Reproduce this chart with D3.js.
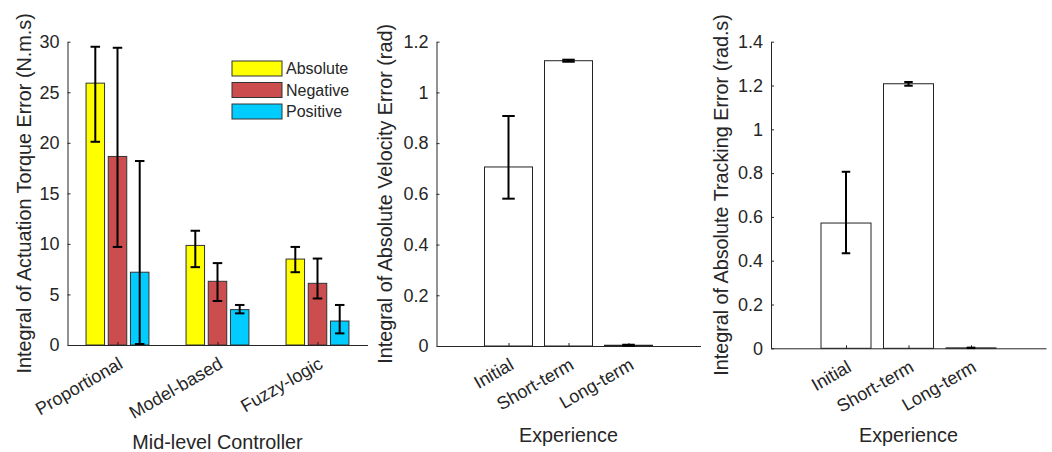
<!DOCTYPE html>
<html>
<head>
<meta charset="utf-8">
<script src="https://cdn.jsdelivr.net/npm/d3@7"></script>
<style>
  body { margin: 0; background: #fff; }
  text { font-family: "Liberation Sans", Arial, Helvetica, sans-serif; fill: #262626; }
</style>
</head>
<body>
<div class="chart"></div>
<script>
// panel 1 data: mid-level controller comparison
var controllers = ["Proportional", "Model-based", "Fuzzy-logic"];
var seriesNames = ["Absolute", "Negative", "Positive"];
var absolute = [25.9, 9.85, 8.5];
var absoluteLow = [20.1, 7.7, 7.2];
var absoluteHigh = [29.5, 11.3, 9.7];
var negative = [18.65, 6.3, 6.1];
var negativeLow = [9.7, 4.35, 4.6];
var negativeHigh = [29.4, 8.1, 8.55];
var positive = [7.2, 3.5, 2.37];
var positiveLow = [0.1, 3.13, 1.15];
var positiveHigh = [18.2, 3.96, 3.96];
var torqueTicks = [0, 5, 10, 15, 20, 25, 30];

// panels 2 and 3: experience
var experience = ["Initial", "Short-term", "Long-term"];
var velocity = [0.706, 1.125, 0.003];
var velocityLow = [0.581, 1.121, 0.001];
var velocityHigh = [0.907, 1.129, 0.005];
var velocityTicks = [0, 0.2, 0.4, 0.6, 0.8, 1, 1.2];
var tracking = [0.572, 1.208, 0.002];
var trackingLow = [0.434, 1.199, 0.001];
var trackingHigh = [0.806, 1.216, 0.003];
var trackingTicks = [0, 0.2, 0.4, 0.6, 0.8, 1, 1.2, 1.4];

var colors = ["#ffff00", "#cc4d4d", "#00ccff"];
var axisColor = "#262626";
var fmt = d3.format("~g");

var svg = d3.select(".chart").append("svg")
    .attr("width", 1052)
    .attr("height", 452);

// draws the axes + labels for one panel
function drawAxes(x, y, ticks, cats, ylabel, xlabel, labelX, xlabelY) {
    var x0 = x.range()[0], x1 = x.range()[1];
    var y0 = y.range()[0], y1 = y.range()[1];

    var ya = svg.append("g")
        .attr("transform", "translate(" + x0 + ",0)")
        .call(d3.axisLeft(y).tickValues(ticks).tickFormat(fmt)
            .tickSizeInner(-3).tickSizeOuter(0).tickPadding(8));
    ya.select(".domain").attr("stroke", axisColor);
    ya.selectAll(".tick line").attr("stroke", axisColor);
    ya.selectAll(".tick text").attr("font-size", 18).attr("fill", axisColor)
        .attr("font-family", "Liberation Sans, Arial, sans-serif");

    var xa = svg.append("g")
        .attr("transform", "translate(0," + y0 + ")")
        .call(d3.axisBottom(x).tickValues([1, 2, 3]).tickFormat("")
            .tickSizeInner(-3).tickSizeOuter(0));
    xa.select(".domain").attr("stroke", axisColor);
    xa.selectAll(".tick line").attr("stroke", axisColor);

    // rotated category labels
    svg.append("g").selectAll("text")
        .data(cats)
        .enter().append("text")
        .attr("transform", function (d, i) {
            return "translate(" + x(i + 1) + "," + (y0 + 11) + ") rotate(-30)";
        })
        .attr("text-anchor", "end")
        .attr("dy", "0.72em")
        .attr("font-size", 18)
        .text(function (d) { return d; });

    svg.append("text")
        .attr("transform", "translate(" + labelX + "," + ((y0 + y1) / 2) + ") rotate(-90)")
        .attr("text-anchor", "middle")
        .attr("font-size", 19.8)
        .text(ylabel);

    svg.append("text")
        .attr("x", (x0 + x1) / 2)
        .attr("y", xlabelY)
        .attr("text-anchor", "middle")
        .attr("font-size", 19.8)
        .text(xlabel);
}

function drawErrors(x, y, pos, low, high, cap) {
    var g = svg.append("g").attr("stroke", "#000").attr("stroke-width", 2);
    pos.forEach(function (p, i) {
        g.append("line").attr("x1", x(p)).attr("x2", x(p))
            .attr("y1", y(low[i])).attr("y2", y(high[i]));
        g.append("line").attr("x1", x(p) - cap / 2).attr("x2", x(p) + cap / 2)
            .attr("y1", y(low[i])).attr("y2", y(low[i]));
        g.append("line").attr("x1", x(p) - cap / 2).attr("x2", x(p) + cap / 2)
            .attr("y1", y(high[i])).attr("y2", y(high[i]));
    });
}

// ---- panel 1 ----
var x1 = d3.scaleLinear().domain([0.5, 3.5]).range([67.5, 367.5]);
var y1 = d3.scaleLinear().domain([0, 30]).range([345, 41.7]);

var groups = [
    { vals: absolute, low: absoluteLow, high: absoluteHigh },
    { vals: negative, low: negativeLow, high: negativeHigh },
    { vals: positive, low: positiveLow, high: positiveHigh }
];
var barW = 0.185, step = 0.222;

groups.forEach(function (s, j) {
    svg.append("g").selectAll("rect")
        .data(s.vals)
        .enter().append("rect")
        .attr("x", function (d, i) { return x1(i + 1 + (j - 1) * step - barW / 2); })
        .attr("width", x1(barW) - x1(0))
        .attr("y", function (d) { return y1(d); })
        .attr("height", function (d) { return y1(0) - y1(d); })
        .attr("fill", colors[j])
        .attr("stroke", "#333").attr("stroke-width", 1);
});

drawAxes(x1, y1, torqueTicks, controllers,
    "Integral of Actuation Torque Error (N.m.s)", "Mid-level Controller", 31, 449);

groups.forEach(function (s, j) {
    var pos = s.vals.map(function (d, i) { return i + 1 + (j - 1) * step; });
    drawErrors(x1, y1, pos, s.low, s.high, 9.5);
});

// legend
var legend = svg.append("g").attr("transform", "translate(232,61)");
seriesNames.forEach(function (name, j) {
    legend.append("rect")
        .attr("x", 0).attr("y", j * 21.5)
        .attr("width", 50).attr("height", 15)
        .attr("fill", colors[j]).attr("stroke", "#333");
    legend.append("text")
        .attr("x", 54).attr("y", j * 21.5 + 7.5)
        .attr("dy", "0.35em")
        .attr("font-size", 16)
        .text(name);
});

// ---- panels 2 and 3 ----
function experiencePanel(range, bottom, ydom, ticks, vals, low, high, ylabel, labelX, cap) {
    var x = d3.scaleLinear().domain([-0.2, 4.2]).range(range);
    var y = d3.scaleLinear().domain(ydom).range([bottom, 41.7]);

    svg.append("g").selectAll("rect")
        .data(vals)
        .enter().append("rect")
        .attr("x", function (d, i) { return x(i + 1 - 0.4); })
        .attr("width", x(0.8) - x(0))
        .attr("y", function (d) { return y(d); })
        .attr("height", function (d) { return y(0) - y(d); })
        .attr("fill", "#fff")
        .attr("stroke", "#222").attr("stroke-width", 1);

    drawAxes(x, y, ticks, experience, ylabel, "Experience", labelX, 442);
    drawErrors(x, y, [1, 2, 3], low, high, cap);
}

experiencePanel([436.5, 700.5], 346, [0, 1.2], velocityTicks, velocity, velocityLow, velocityHigh,
    "Integral of Absolute Velocity Error (rad)", 392, 12.5);
experiencePanel([771, 1046], 348.3, [0, 1.4], trackingTicks, tracking, trackingLow, trackingHigh,
    "Integral of Absolute Tracking Error (rad.s)", 728, 8.5);
</script>
</body>
</html>
